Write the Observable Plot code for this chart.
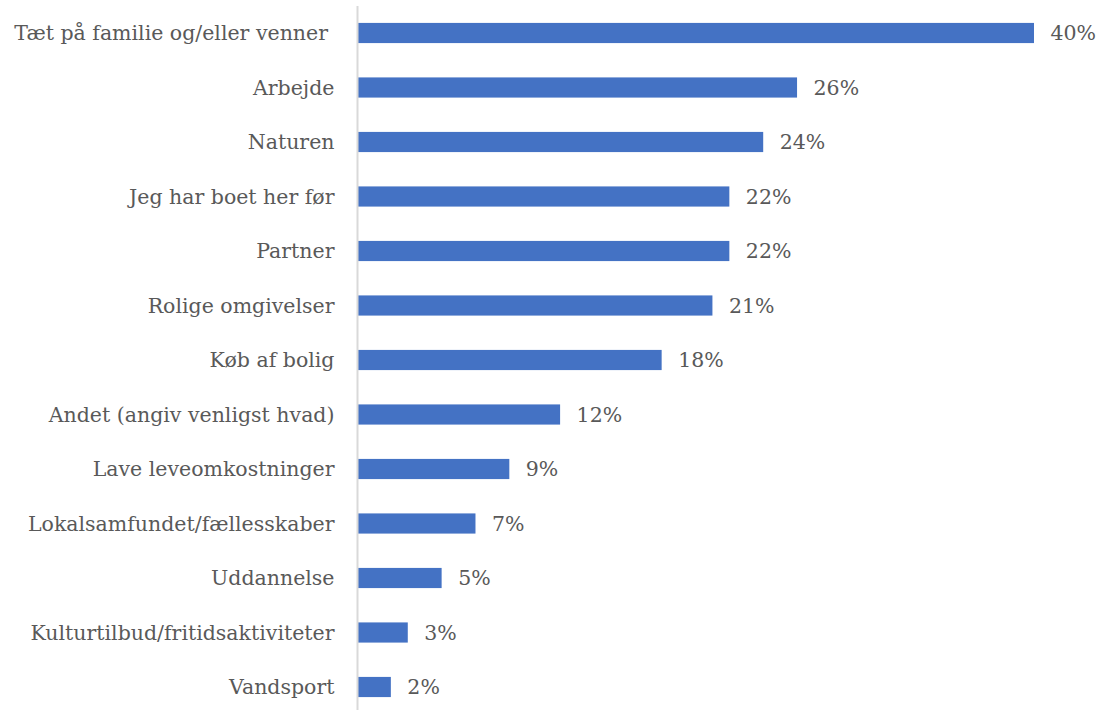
<!DOCTYPE html>
<html>
<head>
<meta charset="utf-8">
<script src="https://cdn.jsdelivr.net/npm/d3@7"></script>
<script src="https://cdn.jsdelivr.net/npm/@observablehq/plot@0.6"></script>
<style>
  html, body { margin: 0; padding: 0; background: #fff; }
  #chart svg { display: block; }
</style>
</head>
<body>
<div id="chart"></div>
<script>
const categories = [
  "Tæt på familie og/eller venner ",
  "Arbejde",
  "Naturen",
  "Jeg har boet her før",
  "Partner",
  "Rolige omgivelser",
  "Køb af bolig",
  "Andet (angiv venligst hvad)",
  "Lave leveomkostninger",
  "Lokalsamfundet/fællesskaber",
  "Uddannelse",
  "Kulturtilbud/fritidsaktiviteter",
  "Vandsport"
];
const values = [40, 26, 24, 22, 22, 21, 18, 12, 9, 7, 5, 3, 2];

const data = categories.map((c, i) => ({category: c, value: values[i]}));
const font = "'DejaVu Serif', serif";

const chart = Plot.plot({
  width: 1119,
  height: 710,
  marginLeft: 357,
  marginRight: 85,
  marginTop: 6,
  marginBottom: 0,
  style: {fontFamily: font, background: "#fff"},
  x: {domain: [0, 40], range: [357, 1034], axis: null},
  y: {domain: categories, range: [5.75, 714.25], paddingInner: 0.63, paddingOuter: 0.315, round: false, axis: null},
  marks: [
    Plot.barX(data, {x: "value", y: "category", fill: "#4472C4"}),
    Plot.ruleX([0], {stroke: "#d9d9d9", strokeWidth: 2}),
    Plot.text(data, {x: 0, y: "category", text: "category", textAnchor: "end", dx: -23,
      fill: "#595959", fontSize: 20.5, fontFamily: font}),
    Plot.text(data, {x: "value", y: "category", text: d => d.value + "%", textAnchor: "start", dx: 16,
      fill: "#595959", fontSize: 20.5, fontFamily: font})
  ]
});
document.getElementById("chart").appendChild(chart);
</script>
</body>
</html>
